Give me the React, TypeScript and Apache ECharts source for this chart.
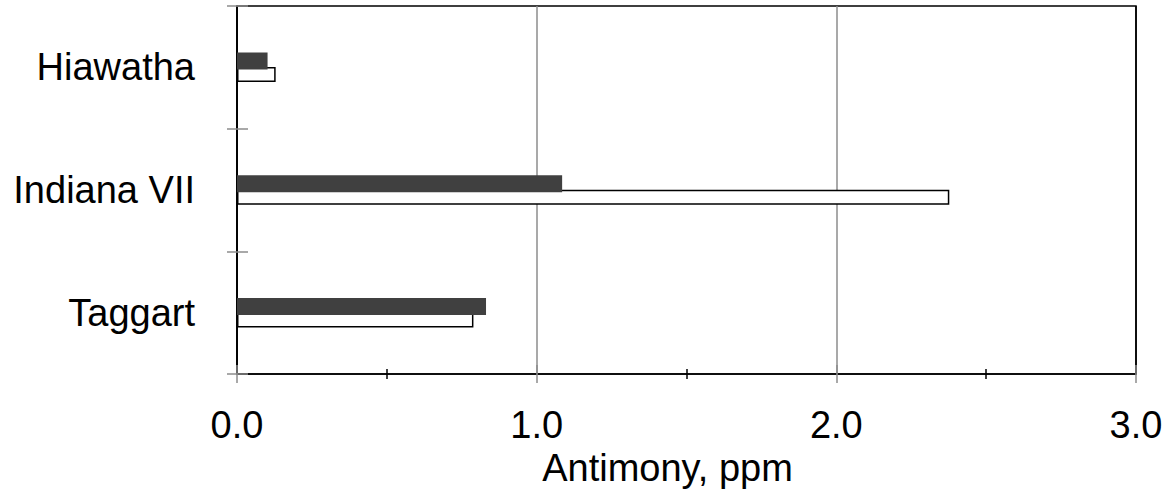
import React, { useEffect, useRef } from "react";
import * as echarts from "echarts";

const categories = ["Hiawatha", "Indiana VII", "Taggart"];
const darkSeries = [0.102, 1.085, 0.831];
const whiteSeries = [0.129, 2.377, 0.789];
const xTickLabels = ["0.0", "1.0", "2.0", "3.0"];
const xAxisName = "Antimony, ppm";

const FONT = "'Liberation Sans', Arial, sans-serif";

export default function App() {
  const ref = useRef<HTMLDivElement>(null);
  useEffect(() => {
    if (!ref.current) return;
    const chart = echarts.init(ref.current, undefined, { renderer: "svg" });
    const gray = "#8c8c8c";
    const baseX = {
      type: "value",
      min: 0,
      max: 3,
      interval: 1,
      position: "bottom",
    };
    chart.setOption({
      animation: false,
      grid: {
        left: 237,
        right: 30,
        top: 6,
        bottom: 122,
        show: true,
        borderColor: "#000",
        borderWidth: 1.5,
        backgroundColor: "transparent",
      },
      xAxis: [
        {
          ...baseX,
          axisLine: { show: true, lineStyle: { color: "#000", width: 1.5 } },
          axisTick: { show: true, length: 9, lineStyle: { color: gray, width: 1.5 } },
          minorTick: { show: true, splitNumber: 2, length: 5, lineStyle: { color: "#000", width: 1.5 } },
          axisLabel: {
            show: true,
            margin: 32,
            fontSize: 38,
            fontFamily: FONT,
            color: "#000",
            formatter: (v: number) => xTickLabels[Math.round(v)] ?? "",
          },
          splitLine: {
            show: true,
            lineStyle: { color: ["#000", gray, gray, "#000"], width: 1.5 },
          },
          name: xAxisName,
          nameLocation: "middle",
          nameGap: 66,
          nameTextStyle: {
            fontSize: 38,
            fontFamily: FONT,
            color: "#000",
            padding: [0, 38, 0, 0],
          },
        },
        {
          ...baseX,
          axisLine: { show: false },
          axisTick: { show: true, inside: true, length: 9, lineStyle: { color: gray, width: 1.5 } },
          minorTick: { show: true, splitNumber: 2, length: 5, lineStyle: { color: "#000", width: 1.5 } },
          axisLabel: { show: false },
          splitLine: { show: false },
        },
      ],
      yAxis: [
        {
          type: "category",
          data: categories,
          inverse: true,
          axisLine: { show: true, lineStyle: { color: "#000", width: 1.5 } },
          axisTick: { show: true, length: 10, lineStyle: { color: gray, width: 1.5 } },
          axisLabel: {
            margin: 42,
            fontSize: 38,
            fontFamily: FONT,
            color: "#000",
          },
          splitLine: { show: false },
        },
        {
          type: "category",
          data: categories,
          inverse: true,
          position: "left",
          offset: 0,
          axisLine: { show: false },
          axisTick: { show: true, inside: true, length: 11, lineStyle: { color: gray, width: 1.5 } },
          axisLabel: { show: false },
          splitLine: { show: false },
        },
      ],
      series: [
        {
          type: "bar",
          xAxisIndex: 0,
          yAxisIndex: 0,
          data: darkSeries,
          barWidth: 17,
          barGap: "-15%",
          itemStyle: { color: "#404040" },
          z: 3,
        },
        {
          type: "bar",
          xAxisIndex: 0,
          yAxisIndex: 0,
          data: whiteSeries,
          barWidth: 15,
          itemStyle: { color: "#fff", borderColor: "#000", borderWidth: 1.5 },
          z: 2,
        },
      ],
    });
    return () => chart.dispose();
  }, []);
  return (
    <div
      ref={ref}
      style={{ position: "fixed", left: 0, top: 0, width: 1166, height: 496, background: "#fff" }}
    />
  );
}
